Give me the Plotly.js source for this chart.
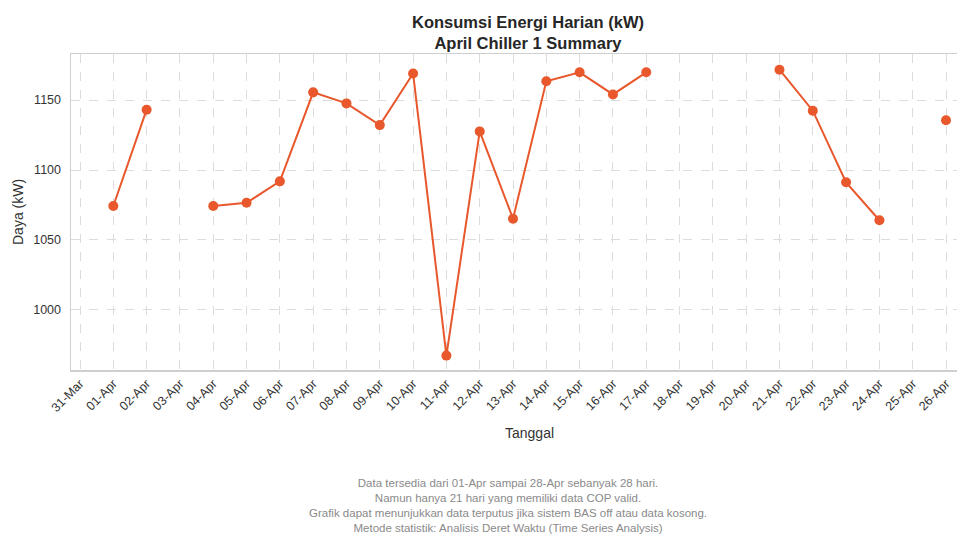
<!DOCTYPE html>
<html><head><meta charset="utf-8">
<script src="https://cdn.plot.ly/plotly-3.0.1.min.js"></script>
<style>html,body{margin:0;padding:0;background:#fff;overflow:hidden}#chart{width:957px;height:535px}</style>
</head><body><div id="chart"></div>
<script>
// Data
const dates = ['2025-04-01','2025-04-02','2025-04-03','2025-04-04','2025-04-05','2025-04-06','2025-04-07','2025-04-08','2025-04-09','2025-04-10','2025-04-11','2025-04-12','2025-04-13','2025-04-14','2025-04-15','2025-04-16','2025-04-17','2025-04-18','2025-04-19','2025-04-20','2025-04-21','2025-04-22','2025-04-23','2025-04-24','2025-04-25','2025-04-26','2025-04-27','2025-04-28'];
const dayaKW = [1074.3,1143.1,null,1074.3,1076.6,1091.9,1155.5,1147.6,1132.1,1169.0,967.4,1127.6,1065.2,1163.4,1169.8,1154.0,1169.8,null,null,null,1171.7,1142.4,1091.2,1064.1,null,1135.5,null,null];
const tickDates = ['2025-03-31','2025-04-01','2025-04-02','2025-04-03','2025-04-04','2025-04-05','2025-04-06','2025-04-07','2025-04-08','2025-04-09','2025-04-10','2025-04-11','2025-04-12','2025-04-13','2025-04-14','2025-04-15','2025-04-16','2025-04-17','2025-04-18','2025-04-19','2025-04-20','2025-04-21','2025-04-22','2025-04-23','2025-04-24','2025-04-25','2025-04-26'];
const yTicks = [1000,1050,1100,1150];
const titleLines = ['Konsumsi Energi Harian (kW)','April Chiller 1 Summary'];
const footerLines = ['Data tersedia dari 01-Apr sampai 28-Apr sebanyak 28 hari.','Namun hanya 21 hari yang memiliki data COP valid.','Grafik dapat menunjukkan data terputus jika sistem BAS off atau data kosong.','Metode statistik: Analisis Deret Waktu (Time Series Analysis)'];

const FONT = '"Liberation Sans", Arial, sans-serif';
const trace = {
  x: dates, y: dayaKW, type: 'scatter', mode: 'lines+markers',
  connectgaps: false,
  line: {color: '#E8582C', width: 2},
  marker: {color: '#E8582C', size: 10},
  hoverinfo: 'skip'
};
const gridCol = '#dcdcdc';
const layout = {
  width: 957, height: 535,
  margin: {l: 71, r: 0, t: 54, b: 165},
  paper_bgcolor: '#fff', plot_bgcolor: '#fff',
  showlegend: false,
  font: {family: FONT, color: '#333'},
  xaxis: {
    type: 'date',
    range: ['2025-03-30 17:30', '2025-04-26 07:55'],
    tickvals: tickDates, tickformat: '%d-%b', tickangle: -45,
    tickfont: {size: 12.5, color: '#333'},
    showgrid: true, gridcolor: gridCol, griddash: 'dash', gridwidth: 1,
    showline: true, mirror: true, linecolor: '#cfcfcf', linewidth: 1.5,
    ticks: '', zeroline: false, fixedrange: true
  },
  yaxis: {
    range: [957.1, 1182.9],
    tickvals: yTicks,
    tickfont: {size: 12.5, color: '#333'},
    showgrid: true, gridcolor: gridCol, griddash: 'dash', gridwidth: 1,
    showline: true, mirror: false, linecolor: '#cfcfcf', linewidth: 1.5,
    ticks: '', ticklabelstandoff: 6, zeroline: false, fixedrange: true
  },
  annotations: [
    {text: '<b>' + titleLines.join('<br>') + '</b>', xref: 'paper', yref: 'paper', x: (528-71)/886, y: 1, yshift: 54-32.5, xanchor: 'center', yanchor: 'middle', align: 'center', showarrow: false, font: {size: 16.5, color: '#262626'}},
    {text: 'Tanggal', xref: 'paper', yref: 'paper', x: (529-71)/886, y: 0, yshift: -(433-370), xanchor: 'center', yanchor: 'middle', showarrow: false, font: {size: 14, color: '#333'}},
    {text: 'Daya (kW)', xref: 'paper', yref: 'paper', x: 0, y: 0.5, xshift: 18-71, textangle: -90, xanchor: 'center', yanchor: 'middle', showarrow: false, font: {size: 14, color: '#333'}},
    {text: footerLines.join('<br>'), xref: 'paper', yref: 'paper', x: (508-71)/886, y: 0, yshift: -(505-370), xanchor: 'center', yanchor: 'middle', align: 'center', showarrow: false, font: {size: 11.5, color: '#8a8a8a'}}
  ]
};
Plotly.newPlot('chart', [trace], layout, {displayModeBar: false, staticPlot: true});
</script></body></html>
